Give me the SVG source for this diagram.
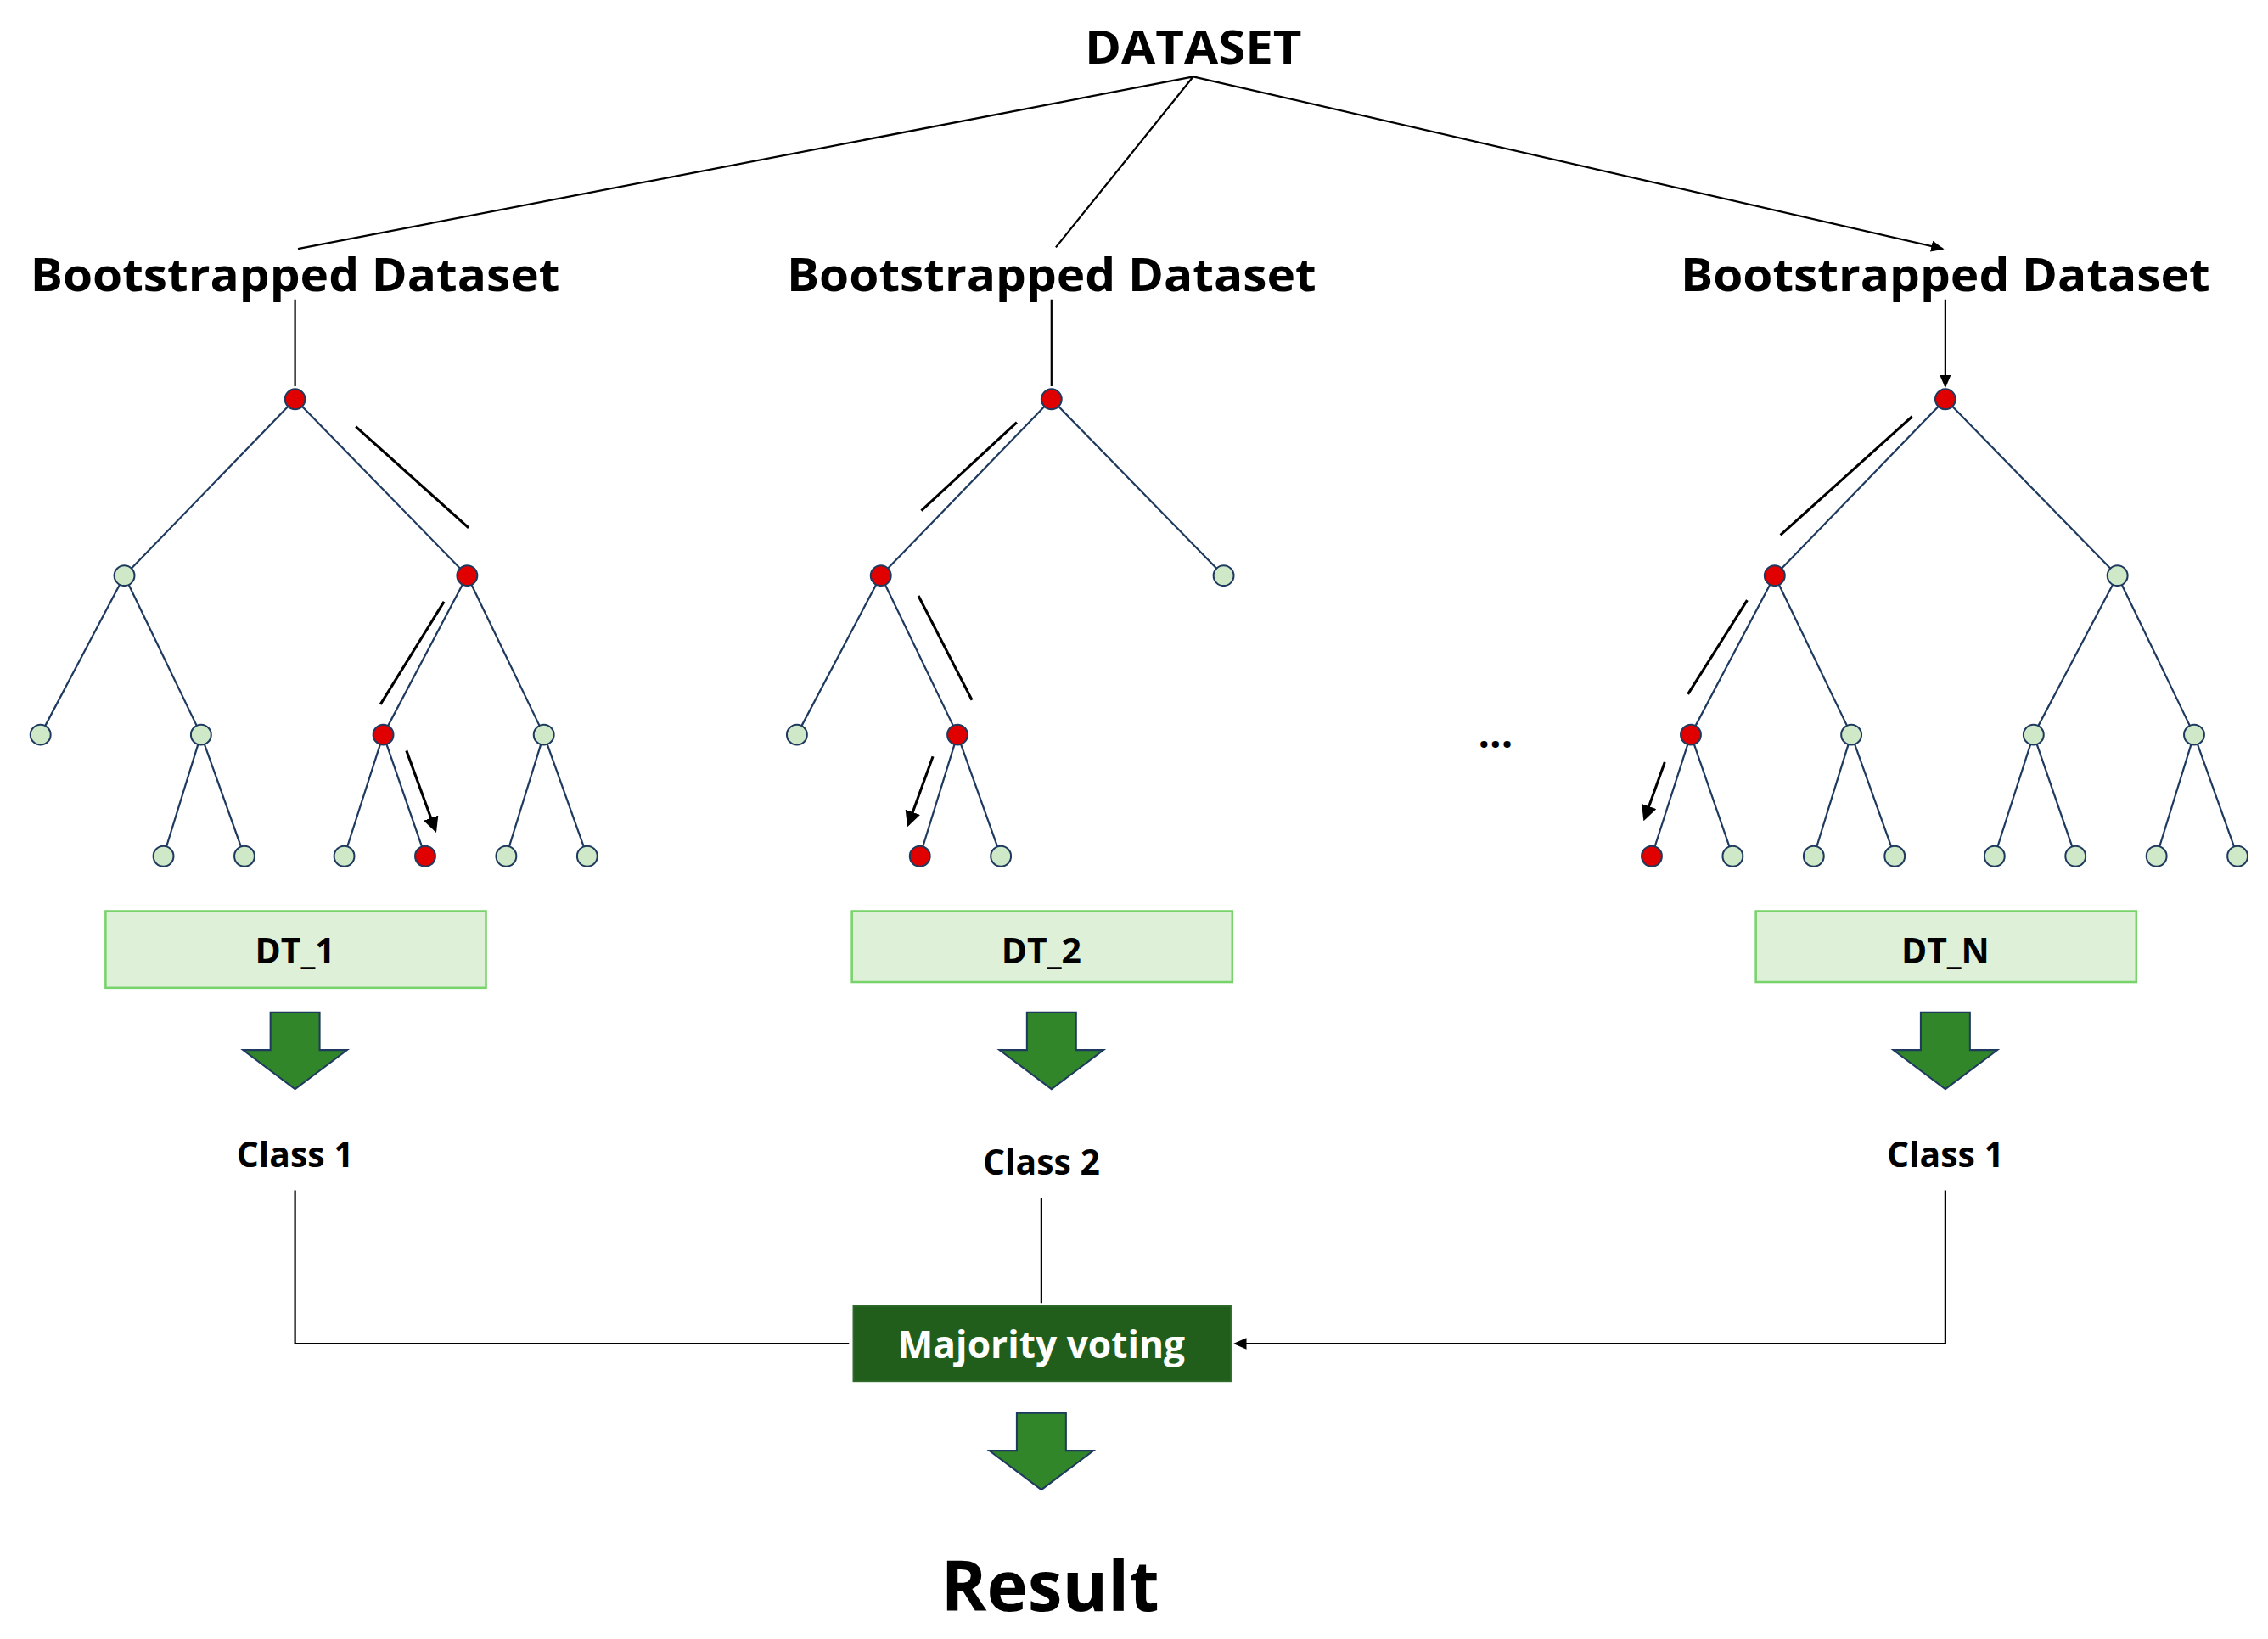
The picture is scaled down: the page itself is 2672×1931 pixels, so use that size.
<svg xmlns="http://www.w3.org/2000/svg" width="2672" height="1931" viewBox="0 0 2672 1931">
<style>
text{font-family:"Open Sans","Liberation Sans",sans-serif;font-weight:bold;text-anchor:middle;fill:#000}
.e{stroke:#1f3a5f;stroke-width:1.3;fill:none}
.g{fill:#cfe8c8;stroke:#1f3a5f;stroke-width:1.2}
.r{fill:#e00000;stroke:#1f3a5f;stroke-width:1.2}
.a{stroke:#000;stroke-width:1.8;fill:none;marker-end:url(#ah)}
.c{stroke:#000;stroke-width:1.3;fill:none;marker-end:url(#ah2)}
.dt{fill:#dff0d9;stroke:#77d36a;stroke-width:1.5}
.ba{fill:#31862a;stroke:#1f3a5f;stroke-width:1.2}
</style>
<defs>
<marker id="ah" markerWidth="6" markerHeight="6" refX="5" refY="3" orient="auto" markerUnits="strokeWidth"><path d="M0,0L6,3L0,6z" fill="#000"/></marker>
<marker id="ah2" markerWidth="7" markerHeight="6" refX="6" refY="3" orient="auto" markerUnits="strokeWidth"><path d="M0,0L7,3L0,6z" fill="#000"/></marker>
</defs>
<rect width="2672" height="1931" fill="#fff"/>
<g transform="scale(1.704)">
<g id="connectors">
<path class="c" d="M825,53L206,172M825,53L730,171M825,53L1343,172"/>
<path class="c" d="M204,207V267M727,207V267M1345,207V267"/>
<path class="a" d="M246,295L324,365M307,416L263,487M281,519L301,574"/>
<path class="a" d="M703,292L637,353M635,412L672,484M645,523L628,570"/>
<path class="a" d="M1322,288L1231,370M1208,415L1167,480M1151,527L1137,566"/>
<path class="c" d="M204,823V929H587M720,828V901M1345,823V929H854"/>
</g>
<g id="tree1">
<path class="e" d="M204,276L86,398M204,276L323,398M86,398L28,508M86,398L139,508M323,398L265,508M323,398L376,508M139,508L113,592M139,508L169,592M265,508L238,592M265,508L294,592M376,508L350,592M376,508L406,592"/>
<ellipse class="r" cx="204" cy="276" rx="7" ry="7"/><ellipse class="g" cx="86" cy="398" rx="7" ry="7"/><ellipse class="r" cx="323" cy="398" rx="7" ry="7"/>
<ellipse class="g" cx="28" cy="508" rx="7" ry="7"/><ellipse class="g" cx="139" cy="508" rx="7" ry="7"/><ellipse class="r" cx="265" cy="508" rx="7" ry="7"/><ellipse class="g" cx="376" cy="508" rx="7" ry="7"/>
<ellipse class="g" cx="113" cy="592" rx="7" ry="7"/><ellipse class="g" cx="169" cy="592" rx="7" ry="7"/><ellipse class="g" cx="238" cy="592" rx="7" ry="7"/><ellipse class="r" cx="294" cy="592" rx="7" ry="7"/><ellipse class="g" cx="350" cy="592" rx="7" ry="7"/><ellipse class="g" cx="406" cy="592" rx="7" ry="7"/>
</g>
<g id="tree2">
<path class="e" d="M727,276L609,398M727,276L846,398M609,398L551,508M609,398L662,508M662,508L636,592M662,508L692,592"/>
<ellipse class="r" cx="727" cy="276" rx="7" ry="7"/><ellipse class="r" cx="609" cy="398" rx="7" ry="7"/><ellipse class="g" cx="846" cy="398" rx="7" ry="7"/>
<ellipse class="g" cx="551" cy="508" rx="7" ry="7"/><ellipse class="r" cx="662" cy="508" rx="7" ry="7"/>
<ellipse class="r" cx="636" cy="592" rx="7" ry="7"/><ellipse class="g" cx="692" cy="592" rx="7" ry="7"/>
</g>
<g id="tree3">
<path class="e" d="M1345,276L1227,398M1345,276L1464,398M1227,398L1169,508M1227,398L1280,508M1464,398L1406,508M1464,398L1517,508M1169,508L1142,592M1169,508L1198,592M1280,508L1254,592M1280,508L1310,592M1406,508L1379,592M1406,508L1435,592M1517,508L1491,592M1517,508L1547,592"/>
<ellipse class="r" cx="1345" cy="276" rx="7" ry="7"/><ellipse class="r" cx="1227" cy="398" rx="7" ry="7"/><ellipse class="g" cx="1464" cy="398" rx="7" ry="7"/>
<ellipse class="r" cx="1169" cy="508" rx="7" ry="7"/><ellipse class="g" cx="1280" cy="508" rx="7" ry="7"/><ellipse class="g" cx="1406" cy="508" rx="7" ry="7"/><ellipse class="g" cx="1517" cy="508" rx="7" ry="7"/>
<ellipse class="r" cx="1142" cy="592" rx="7" ry="7"/><ellipse class="g" cx="1198" cy="592" rx="7" ry="7"/><ellipse class="g" cx="1254" cy="592" rx="7" ry="7"/><ellipse class="g" cx="1310" cy="592" rx="7" ry="7"/><ellipse class="g" cx="1379" cy="592" rx="7" ry="7"/><ellipse class="g" cx="1435" cy="592" rx="7" ry="7"/><ellipse class="g" cx="1491" cy="592" rx="7" ry="7"/><ellipse class="g" cx="1547" cy="592" rx="7" ry="7"/>
</g>
<g id="dataset"><text x="825" y="44" font-size="31" textLength="150" lengthAdjust="spacingAndGlyphs">DATASET</text></g>
<g id="bs1"><text x="204" y="201" font-size="31" textLength="366" lengthAdjust="spacingAndGlyphs">Bootstrapped Dataset</text></g>
<g id="bs2"><text x="727" y="201" font-size="31" textLength="366" lengthAdjust="spacingAndGlyphs">Bootstrapped Dataset</text></g>
<g id="bs3"><text x="1345" y="201" font-size="31" textLength="366" lengthAdjust="spacingAndGlyphs">Bootstrapped Dataset</text></g>
<g id="dots"><text x="1034" y="517" font-size="28">...</text></g>
<g id="dt1"><rect class="dt" x="73" y="630" width="263" height="53"/><text x="204" y="666" font-size="24">DT_1</text></g>
<g id="dt2"><rect class="dt" x="589" y="630" width="263" height="49"/><text x="720" y="666" font-size="24">DT_2</text></g>
<g id="dtn"><rect class="dt" x="1214" y="630" width="263" height="49"/><text x="1345" y="666" font-size="24">DT_N</text></g>
<g id="arr1"><path class="ba" d="M187,700H221V726H240L204,753L168,726H187Z"/></g>
<g id="arr2"><path class="ba" d="M710,700H744V726H763L727,753L691,726H710Z"/></g>
<g id="arr3"><path class="ba" d="M1328,700H1362V726H1381L1345,753L1309,726H1328Z"/></g>
<g id="c1"><text x="204" y="807" font-size="24">Class 1</text></g>
<g id="c2"><text x="720" y="812" font-size="24">Class 2</text></g>
<g id="c3"><text x="1345" y="807" font-size="24">Class 1</text></g>
<g id="mv"><rect x="590" y="903" width="261" height="52" fill="#215e1c" stroke="#2f6b2a"/><text x="720" y="939" font-size="26" style="fill:#fff">Majority voting</text></g>
<g id="arr4"><path class="ba" d="M703,977H737V1003H756L720,1030L684,1003H703Z"/></g>
<g id="result"><text x="726" y="1114" font-size="48">Result</text></g>
</g>
</svg>
